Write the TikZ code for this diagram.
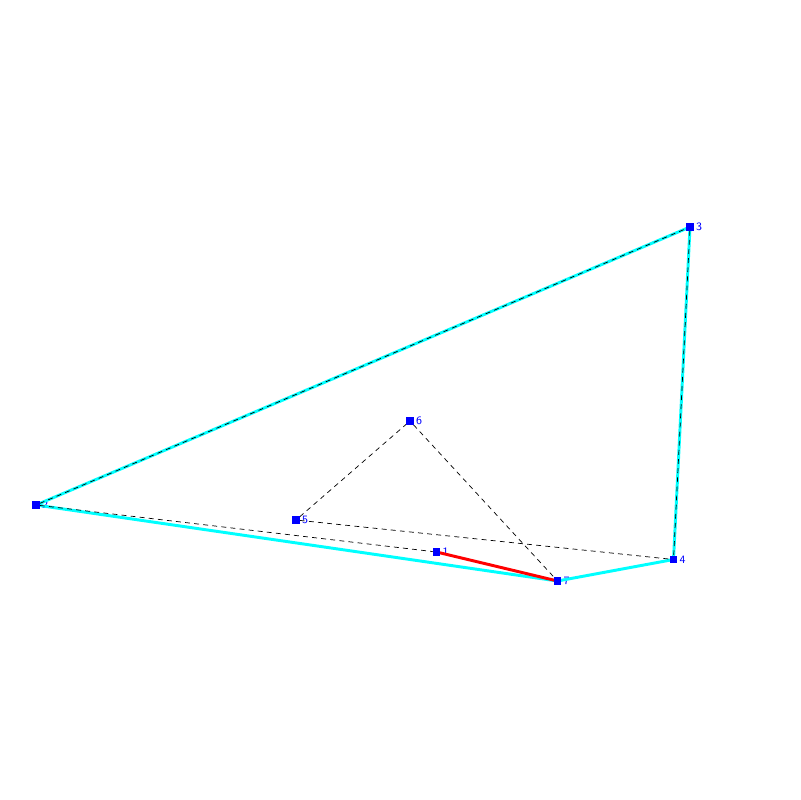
\documentclass[tikz,border=0pt]{standalone}
\usepackage{tikz}
\usetikzlibrary{positioning}
\definecolor{hullcyan}{RGB}{0,255,255}

\begin{document}
\begin{tikzpicture}[
    x=0.025cm, y=-0.025cm,
    vertex/.style={rectangle, fill=blue, minimum size=5pt, inner sep=0pt,
        label={[text=blue, font=\fontsize{8}{9}\sffamily, inner sep=0pt, xshift=1.5pt]right:#1}},
    hull/.style={hullcyan, line width=2.1pt},
    picked/.style={red, line width=2.1pt},
    link/.style={black, line width=0.5pt, dash pattern=on 3.5pt off 3pt}
]
    \useasboundingbox (0,0) rectangle (800,800);

    \node (n1) [vertex=1] at (436.5,552) {};
    \node (n2) [vertex=2] at (36,505) {};
    \node (n3) [vertex=3] at (690,227) {};
    \node (n4) [vertex=4] at (673.5,559.5) {};
    \node (n5) [vertex=5] at (296,520) {};
    \node (n6) [vertex=6] at (410,421) {};
    \node (n7) [vertex=7] at (557.5,581) {};

    \draw[hull] (n2.center) -- (n3.center) -- (n4.center) -- (n7.center) -- (n2.center);
    \draw[picked] (n1.center) -- (n7.center);

    \draw[link] (n2) -- (n3);
    \draw[link] (n3) -- (n4);
    \draw[link] (n2) -- (n1);
    \draw[link] (n5) -- (n6);
    \draw[link] (n6) -- (n7);
    \draw[link] (n5) -- (n4);

    % squares again on top
    \foreach \v in {n1,n2,n3,n4,n5,n6,n7}
        \fill[blue] (\v.south west) rectangle (\v.north east);
\end{tikzpicture}
\end{document}
